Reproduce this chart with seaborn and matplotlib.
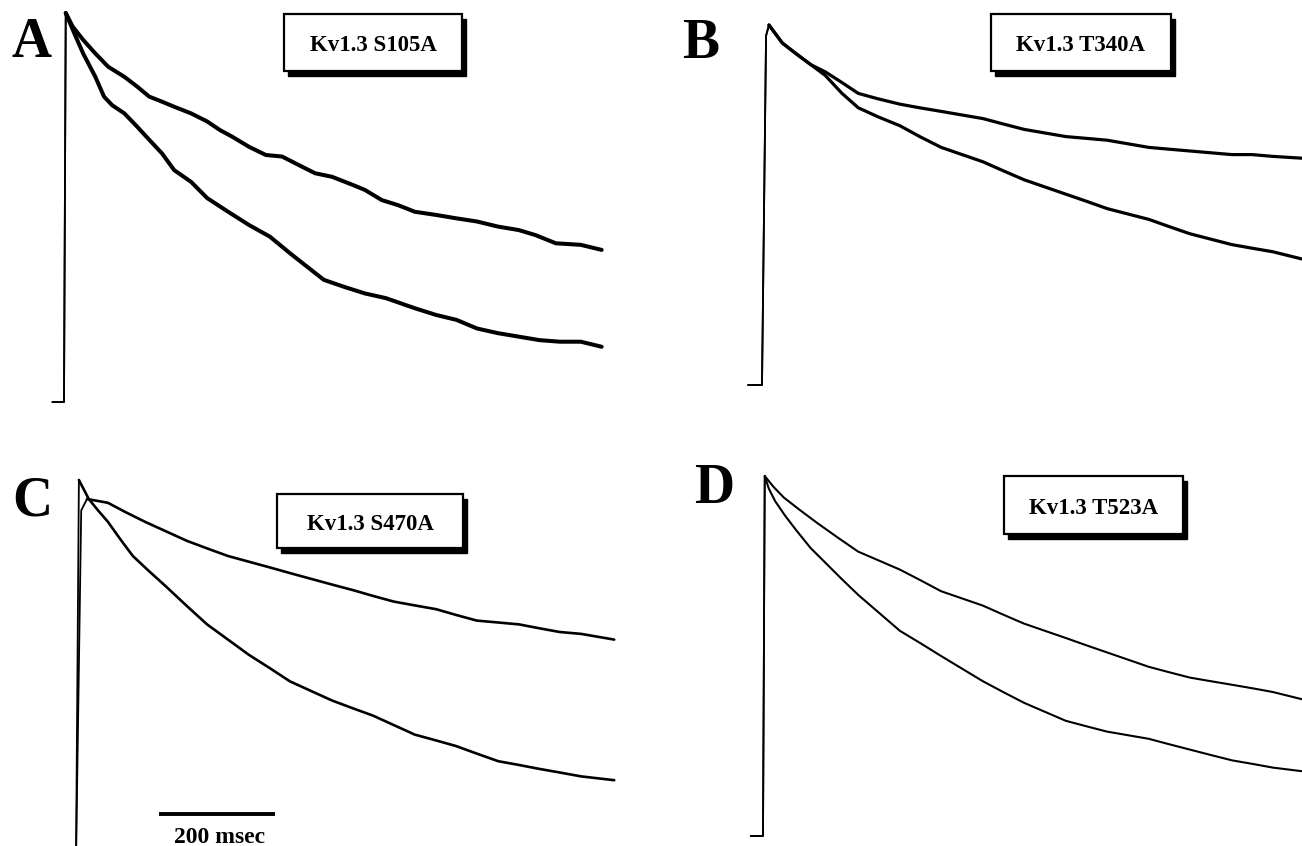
"""
Kv1.3 point mutants: normalised current traces (two conditions per mutant),
four panels A-D with a 200 msec scale bar.
"""

import numpy as np
import matplotlib

matplotlib.use("Agg")
import matplotlib.pyplot as plt
from matplotlib.patches import Rectangle
import seaborn as sns

# ─────────────────────────────────────────────────────────────────────────────
# Data: time (ms from pulse onset) and current normalised to peak
# ─────────────────────────────────────────────────────────────────────────────

A_UPPER_T = [-20, 0, 3, 15, 33, 54, 76, 104, 126, 147, 169, 190, 219, 247, 269, 290, 319,
             348, 376, 405, 433, 462, 498, 519, 548, 576, 605, 641, 677, 712, 748, 784,
             813, 848, 891, 927]
A_UPPER_I = [0, 0, 1.0, 0.965, 0.931, 0.896, 0.862, 0.836, 0.811, 0.785, 0.772, 0.759,
             0.742, 0.721, 0.699, 0.682, 0.656, 0.635, 0.631, 0.609, 0.588, 0.579, 0.558,
             0.545, 0.519, 0.506, 0.489, 0.481, 0.472, 0.464, 0.451, 0.442, 0.429, 0.408,
             0.404, 0.391]
A_LOWER_T = [-20, 0, 3, 18, 33, 54, 69, 83, 104, 126, 147, 169, 190, 219, 247, 283, 319,
             355, 390, 419, 448, 483, 519, 555, 605, 641, 677, 712, 748, 784, 820, 855,
             891, 927]
A_LOWER_I = [0, 0, 1.0, 0.947, 0.896, 0.836, 0.785, 0.763, 0.742, 0.708, 0.674, 0.639,
             0.596, 0.566, 0.524, 0.489, 0.455, 0.425, 0.382, 0.348, 0.314, 0.296, 0.279,
             0.267, 0.241, 0.224, 0.211, 0.189, 0.177, 0.168, 0.159, 0.155, 0.155, 0.142]

B_UPPER_T = [-24, 0, 7, 12, 35, 59, 84, 109, 138, 166, 200, 238, 272, 309, 345, 381, 416,
             452, 488, 524, 560, 595, 631, 667, 702, 738, 774, 810, 845, 881, 931]
B_UPPER_I = [0, 0, 0.97, 1.0, 0.95, 0.92, 0.89, 0.87, 0.84, 0.81, 0.795, 0.78, 0.77, 0.76,
             0.75, 0.74, 0.725, 0.71, 0.70, 0.69, 0.685, 0.68, 0.67, 0.66, 0.655, 0.65,
             0.645, 0.64, 0.64, 0.635, 0.63]
B_LOWER_T = [-24, 0, 7, 12, 35, 59, 84, 109, 138, 166, 200, 238, 272, 309, 345, 381, 416,
             452, 488, 524, 560, 595, 631, 667, 702, 738, 774, 810, 845, 881, 931]
B_LOWER_I = [0, 0, 0.97, 1.0, 0.95, 0.92, 0.89, 0.86, 0.81, 0.77, 0.745, 0.72, 0.69, 0.66,
             0.64, 0.62, 0.595, 0.57, 0.55, 0.53, 0.51, 0.49, 0.475, 0.46, 0.44, 0.42,
             0.405, 0.39, 0.38, 0.37, 0.35]

C_UPPER_T = [-20, 0, 9, 19, 55, 86, 119, 155, 191, 226, 262, 298, 334, 369, 405, 441, 478,
             512, 548, 584, 621, 655, 691, 728, 764, 798, 834, 871, 928]
C_UPPER_I = [0, 0, 0.92, 0.95, 0.94, 0.915, 0.89, 0.865, 0.84, 0.82, 0.80, 0.785, 0.77,
             0.755, 0.74, 0.725, 0.71, 0.695, 0.68, 0.67, 0.66, 0.645, 0.63, 0.625, 0.62,
             0.61, 0.60, 0.595, 0.58]
C_LOWER_T = [-20, 0, 5, 22, 38, 55, 76, 98, 126, 155, 190, 226, 262, 298, 334, 369, 405,
             441, 476, 512, 548, 584, 620, 655, 691, 728, 764, 798, 835, 871, 928]
C_LOWER_I = [0, 0, 1.0, 0.95, 0.92, 0.89, 0.845, 0.80, 0.76, 0.72, 0.67, 0.62, 0.58, 0.54,
             0.505, 0.47, 0.445, 0.42, 0.40, 0.38, 0.355, 0.33, 0.315, 0.30, 0.28, 0.26,
             0.25, 0.24, 0.23, 0.22, 0.21]

D_UPPER_T = [-21, 0, 3, 18, 36, 64, 93, 128, 164, 200, 236, 272, 307, 343, 379, 414, 450,
             486, 522, 557, 593, 629, 665, 700, 736, 772, 809, 845, 879, 929]
D_UPPER_I = [0, 0, 1.0, 0.97, 0.94, 0.905, 0.87, 0.83, 0.79, 0.765, 0.74, 0.71, 0.68, 0.66,
             0.64, 0.615, 0.59, 0.57, 0.55, 0.53, 0.51, 0.49, 0.47, 0.455, 0.44, 0.43,
             0.42, 0.41, 0.40, 0.38]
D_LOWER_T = [-21, 0, 3, 10, 21, 38, 57, 82, 107, 135, 164, 200, 236, 272, 307, 343, 379,
             414, 450, 486, 522, 557, 593, 629, 665, 700, 736, 772, 809, 845, 879, 929]
D_LOWER_I = [0, 0, 1.0, 0.965, 0.93, 0.89, 0.85, 0.80, 0.76, 0.715, 0.67, 0.62, 0.57,
             0.535, 0.50, 0.465, 0.43, 0.40, 0.37, 0.345, 0.32, 0.305, 0.29, 0.28, 0.27,
             0.255, 0.24, 0.225, 0.21, 0.20, 0.19, 0.18]

PANEL_LETTERS = ["A", "B", "C", "D"]
MUTANT_LABELS = ["Kv1.3 S105A", "Kv1.3 T340A", "Kv1.3 S470A", "Kv1.3 T523A"]
SCALE_BAR_MS = 200
SCALE_BAR_LABEL = "200 msec"

# ─────────────────────────────────────────────────────────────────────────────
# Layout (pixels on a 1302 x 846 canvas)
# ─────────────────────────────────────────────────────────────────────────────

W, H = 1302, 846
MS_PER_PX = 200 / 116

# quadrant box (l, t, r, b), onset x, baseline y, peak y
PANEL_FRAMES = {
    "A": ((0, 0, 651, 423), 64, 402, 13),
    "B": ((651, 0, 1302, 423), 762, 385, 25),
    "C": ((0, 423, 651, 846), 76, 860, 480),
    "D": ((651, 423, 1302, 846), 763, 836, 476),
}
LETTER_POS = {"A": (31, 43), "B": (701, 44), "C": (32, 501), "D": (714, 489)}
LABEL_BOX = {
    "A": (284, 14, 462, 71),
    "B": (991, 14, 1171, 71),
    "C": (277, 494, 463, 548),
    "D": (1004, 476, 1183, 534),
}
LINE_W = {"A": 2.9, "B": 2.3, "C": 1.9, "D": 1.5}
RISE_W = 1.3

sns.set_style("white")
plt.rcParams["font.family"] = ["Liberation Serif", "DejaVu Serif"]
plt.rcParams["font.weight"] = "bold"
plt.rcParams["text.color"] = "black"

fig = plt.figure(figsize=(W / 100, H / 100), dpi=100)
fig.patch.set_facecolor("white")


def px_axes(key):
    (l, t, r, b), x0, ybase, ypeak = PANEL_FRAMES[key]
    ax = fig.add_axes([l / W, 1 - b / H, (r - l) / W, (b - t) / H])
    h = ybase - ypeak
    ax.set_xlim((l - x0) * MS_PER_PX, (r - x0) * MS_PER_PX)
    ax.set_ylim((ybase - b) / h, (ybase - t) / h)
    ax.set_axis_off()
    return ax


def draw_trace(ax, t, i, lw):
    t = np.asarray(t, dtype=float)
    i = np.asarray(i, dtype=float)
    k = int(np.argmax(i))
    # fast rising phase is drawn thinner, like the fast oscilloscope sweep
    sns.lineplot(x=t[: k + 1], y=i[: k + 1], ax=ax, color="black",
                 linewidth=RISE_W, estimator=None, sort=False)
    sns.lineplot(x=t[k:], y=i[k:], ax=ax, color="black",
                 linewidth=lw, estimator=None, sort=False)


def label_box(key, text):
    l, t, r, b = LABEL_BOX[key]
    shadow = Rectangle(((l + 4) / W, 1 - (b + 5) / H), (r - l) / W, (b - t) / H,
                       transform=fig.transFigure, facecolor="black",
                       edgecolor="black", zorder=5)
    box = Rectangle((l / W, 1 - b / H), (r - l) / W, (b - t) / H,
                    transform=fig.transFigure, facecolor="white",
                    edgecolor="black", linewidth=1.6, zorder=6)
    fig.add_artist(shadow)
    fig.add_artist(box)
    fig.text((l + r) / 2 / W, 1 - ((t + b) / 2 + 3) / H, text, ha="center",
             va="center", fontsize=16.5, fontweight="bold", zorder=7)


traces = {
    "A": ((A_UPPER_T, A_UPPER_I), (A_LOWER_T, A_LOWER_I)),
    "B": ((B_UPPER_T, B_UPPER_I), (B_LOWER_T, B_LOWER_I)),
    "C": ((C_UPPER_T, C_UPPER_I), (C_LOWER_T, C_LOWER_I)),
    "D": ((D_UPPER_T, D_UPPER_I), (D_LOWER_T, D_LOWER_I)),
}

axes = {}
for key, label in zip(PANEL_LETTERS, MUTANT_LABELS):
    ax = px_axes(key)
    axes[key] = ax
    for t, i in traces[key]:
        draw_trace(ax, t, i, LINE_W[key])
    x, y = LETTER_POS[key]
    fig.text(x / W, 1 - y / H, key, ha="center", va="center",
             fontsize=40, fontweight="bold")
    label_box(key, label)

# scale bar in panel C
ax = axes["C"]
bar_start = 143
ax.plot([bar_start, bar_start + SCALE_BAR_MS], [0.121, 0.121], color="black",
        linewidth=2.8, solid_capstyle="butt")
ax.text(bar_start + SCALE_BAR_MS / 2 + 5, 0.058, SCALE_BAR_LABEL, ha="center",
        va="center", fontsize=17, fontweight="bold")

fig.savefig("out.png", dpi=100, facecolor="white")
plt.close(fig)
